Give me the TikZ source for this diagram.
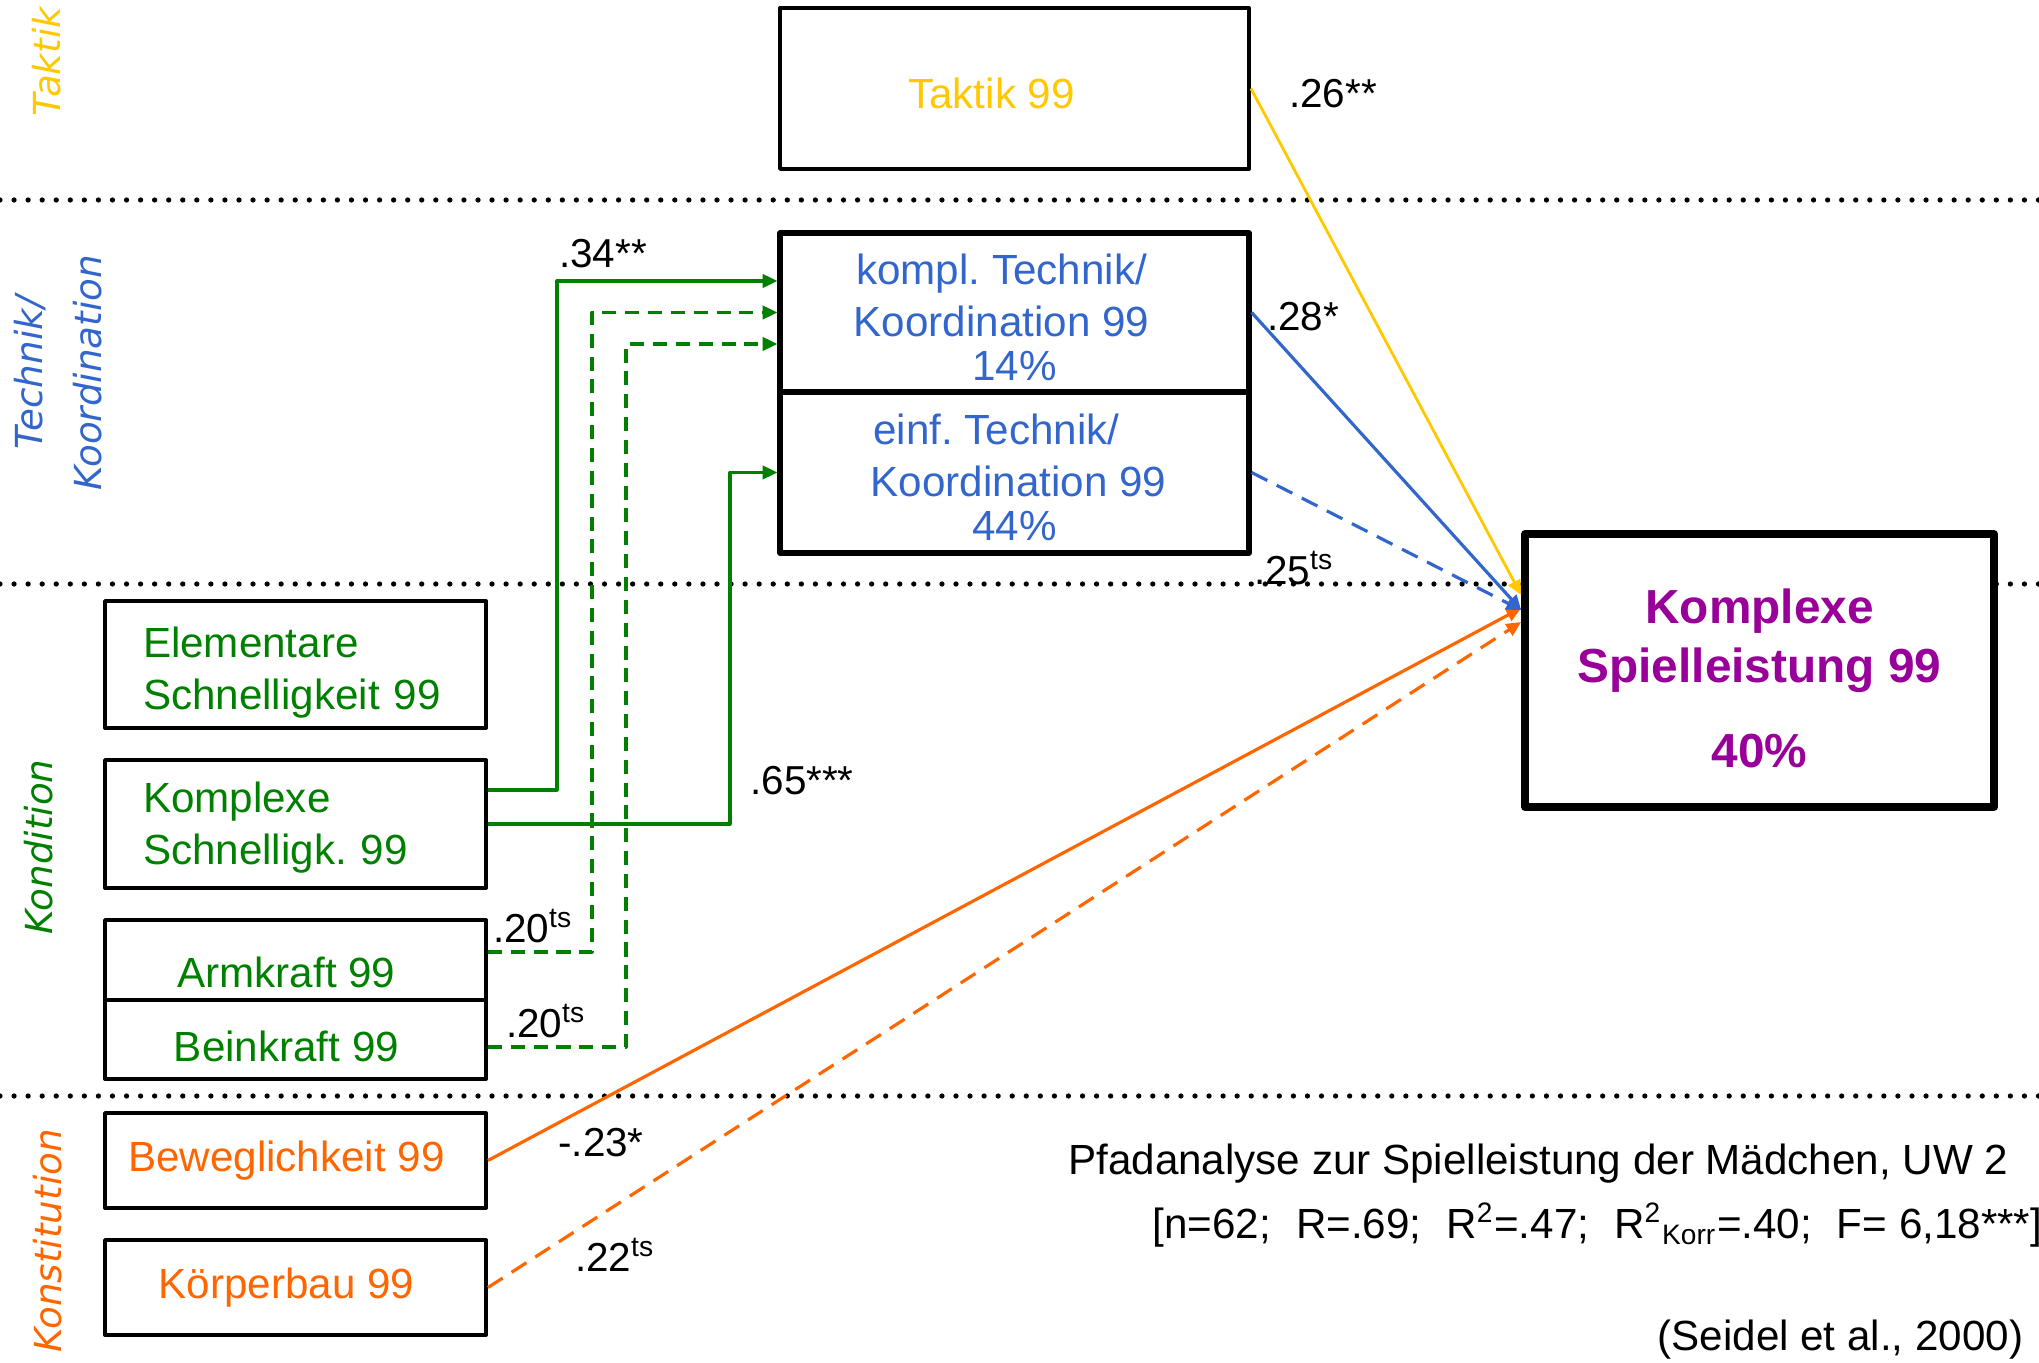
\documentclass[tikz,border=0pt]{standalone}
\usepackage{fontspec}
\setmainfont{Liberation Sans}
\newfontfamily\sidefont{DejaVu Sans}
\usetikzlibrary{arrows.meta}
\frenchspacing
\definecolor{taktgelb}{RGB}{255,200,0}
\definecolor{techblau}{RGB}{51,102,204}
\definecolor{kondgruen}{RGB}{0,128,0}
\definecolor{konstorange}{RGB}{255,102,0}
\definecolor{leistlila}{RGB}{153,0,153}
\begin{document}
\begin{tikzpicture}[>={Triangle[length=4.2pt,width=3.8pt]}, line join=round,
  font=\fontsize{12}{14.8}\selectfont,
  kasten/.style={draw, line width=1.1pt, fill=white, inner sep=0pt, minimum width=3.81cm},
  linksbox/.style={kasten, align=left, text width=3.05cm, inner xsep=0.38cm},
  links/.style={execute at begin node=\hspace*{-0.18cm}},
  pfad/.style={line width=0.9pt},
  ns/.style={dash pattern=on 4pt off 2.5pt},
  lang/.style={dash pattern=on 5pt off 3pt},
  punktlinie/.style={line width=1.5pt, line cap=round, dash pattern=on 0pt off 4pt},
  wert/.style={inner sep=0pt, font=\fontsize{11.5}{13}\selectfont},
  bereich/.style={rotate=90, font=\sidefont\itshape\fontsize{10.6}{16.8}\selectfont, align=center}]
\useasboundingbox (0,0) rectangle (20.39,13.62);
% Trennlinien
\draw[punktlinie] (0,11.62) -- (20.39,11.62);
\draw[punktlinie] (0,7.78) -- (20.39,7.78);
\draw[punktlinie] (0,2.66) -- (20.39,2.66);
% Bereiche
\node[bereich, text=taktgelb] (bTak) at (0.47,13.0) {Taktik};
\node[bereich, text=techblau] (bTech) at (0.585,9.89) {Technik/\\Koordination};
\node[bereich, text=kondgruen] (bKond) at (0.39,5.15) {Kondition};
\node[bereich, text=konstorange] (bKonst) at (0.48,1.21) {Konstitution};
% Kaesten
\node[kasten, minimum width=4.69cm, minimum height=1.61cm, text=taktgelb] (tak) at (10.145,12.735)
  {\hspace*{-0.46cm}\rule{0pt}{11.5pt}Taktik 99};
\node[kasten, line width=1.5pt, minimum width=4.69cm, minimum height=1.59cm, align=center, text=techblau] (tk1) at (10.145,10.495)
  {\hspace*{-0.26cm}\rule{0pt}{11.3pt}kompl. Technik/\\\hspace*{-0.26cm}Koordination 99\\[-2.2pt]14\%};
\node[kasten, line width=1.5pt, minimum width=4.69cm, minimum height=1.61cm, align=center, text=techblau] (tk2) at (10.145,8.895)
  {\hspace*{-0.36cm}\rule{0pt}{11.3pt}einf. Technik/\\\hspace*{0.08cm}Koordination 99\\[-2.2pt]44\%};
\node[kasten, line width=2.2pt, minimum width=4.69cm, minimum height=2.73cm, align=center, text=leistlila,
  font=\bfseries\fontsize{13.6}{16.8}\selectfont] (kg) at (17.595,6.915)
  {\rule{0pt}{14.4pt}Komplexe\\Spielleistung 99\\[0.26cm]40\%};
\node[linksbox, minimum height=1.27cm, text=kondgruen] (es) at (2.955,6.975) {\rule{0pt}{13.3pt}Elementare\\Schnelligkeit 99};
\node[linksbox, minimum height=1.28cm, text=kondgruen] (ks) at (2.955,5.38) {\rule{0pt}{11pt}Komplexe\\Schnelligk. 99};
\node[kasten, links, minimum height=0.80cm, text=kondgruen] (ak) at (2.955,4.02) {\rule{0pt}{15.5pt}Armkraft 99};
\node[kasten, links, minimum height=0.79cm, text=kondgruen] (bk) at (2.955,3.225) {\rule{0pt}{12.4pt}Beinkraft 99};
\node[kasten, links, minimum height=0.95cm, text=konstorange] (bw) at (2.955,2.015) {Beweglichkeit 99};
\node[kasten, links, minimum height=0.95cm, text=konstorange] (kb) at (2.955,0.745) {Körperbau 99};
% Pfade
\coordinate (zGelb) at ([yshift=7.55mm]kg.west);
\coordinate (zBlau) at ([yshift=6.05mm]kg.west);
\coordinate (zOr) at ([yshift=6.25mm]kg.west);
\coordinate (zOrNs) at ([yshift=4.85mm]kg.west);
\draw[pfad, kondgruen, ->] ([yshift=3.4mm]ks.east) -- ++(0.69,0) |- ([yshift=3.15mm]tk1.west);
\draw[pfad, kondgruen, ns, ->] ([yshift=0.8mm]ak.east) -- ++(1.04,0) |- (tk1.west);
\draw[pfad, kondgruen, ns, ->] ([yshift=-0.75mm]bk.east) -- ++(1.38,0) |- ([yshift=-3.15mm]tk1.west);
\draw[pfad, kondgruen, ->] (ks.east) -- ++(2.42,0) |- (tk2.west);
\draw[pfad, line width=0.8pt, taktgelb, ->] (tak.east) -- (zGelb);
\draw[pfad, konstorange, ->] (bw.east) -- (zOr);
\draw[pfad, konstorange, lang, ->] (kb.east) -- (zOrNs);
\draw[pfad, techblau, lang, ->] (tk2.east) -- (zBlau);
\draw[pfad, techblau, ->] (tk1.east) -- (zBlau);
% Werte
\node[wert] (w34) at (6.03,11.08) {.34**};
\node[wert] (w20a) at (5.33,4.36) {.20\textsuperscript{ts}};
\node[wert] (w20b) at (5.46,3.41) {.20\textsuperscript{ts}};
\node[wert] (w65) at (8.02,5.81) {.65***};
\node[wert] (w26) at (13.33,12.68) {.26**};
\node[wert] (w28) at (13.03,10.45) {.28*};
\node[wert] (w25) at (12.94,7.94) {.25\textsuperscript{ts}};
\node[wert] (w23) at (6.01,2.19) {-.23*};
\node[wert] (w22) at (6.15,1.07) {.22\textsuperscript{ts}};
% Legende
\node[anchor=east, inner sep=0pt] (titel) at (20.09,1.98) {Pfadanalyse zur Spielleistung der Mädchen, UW 2};
\node[anchor=west, inner sep=0pt] (stat) at (11.52,1.37)
  {[n=62;\hspace{7.1pt}R=.69;\hspace{7.1pt}R\textsuperscript{2}=.47;\hspace{7.1pt}R\textsuperscript{2}\textsubscript{Korr}=.40;\hspace{7.1pt}F= 6,18***]};
\node[anchor=east, inner sep=0pt] (quelle) at (20.24,0.22) {(Seidel et al., 2000)};
\end{tikzpicture}
\end{document}
